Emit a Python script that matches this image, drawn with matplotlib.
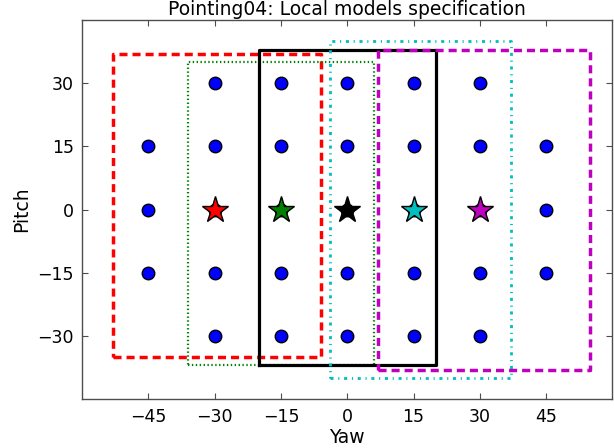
import matplotlib
matplotlib.use("Agg")
import matplotlib.pyplot as plt
import numpy as np

# grid of head poses (yaw, pitch)
yaw_grid = [-45, -30, -15, 0, 15, 30, 45]
pitch_grid = [-30, -15, 0, 15, 30]
# yaw +-45 only has the inner pitch values
pitch_outer = [-15, 0, 15]

# local model centres
star_yaw = [-30, -15, 0, 15, 30]
star_pitch = [0, 0, 0, 0, 0]
star_colors = ['r', 'g', 'k', 'c', 'm']

# local model regions: (yaw_min, yaw_max, pitch_min, pitch_max)
box_yaw_min = [-53, -36, -20, -4, 7]
box_yaw_max = [-6, 6, 20, 37, 55]
box_pitch_min = [-35, -37, -37, -40, -38]
box_pitch_max = [37, 35, 38, 40, 38]
box_dashes = [(5.8, 3.6), (1.0, 1.8), None, (2.2, 3.4, 0.8, 3.4), (5.8, 3.6)]
box_widths = [2.5, 1.6, 2.3, 2.0, 2.5]

plt.rcParams['xtick.direction'] = 'in'
plt.rcParams['ytick.direction'] = 'in'
plt.rcParams['xtick.top'] = True
plt.rcParams['ytick.right'] = True
plt.rcParams['lines.scale_dashes'] = False

fig = plt.figure(figsize=(6.14, 4.48), dpi=100)
ax = fig.add_axes([0.1335, 0.109, 0.864, 0.846])

xs, ys = [], []
for yw in yaw_grid:
    col = pitch_outer if abs(yw) == 45 else pitch_grid
    for p in col:
        xs.append(yw); ys.append(p)
ax.plot(xs, ys, 'o', color='b', markeredgecolor='k', markersize=9, linestyle='none')

for i in range(len(box_dashes)):
    x0, x1 = box_yaw_min[i], box_yaw_max[i]
    y0, y1 = box_pitch_min[i], box_pitch_max[i]
    ln, = ax.plot([x0, x1, x1, x0, x0], [y0, y0, y1, y1, y0],
                  color=star_colors[i], linewidth=box_widths[i])
    if box_dashes[i] is not None:
        ln.set_dashes(box_dashes[i])

for i in range(len(star_yaw)):
    ax.plot(star_yaw[i], star_pitch[i], '*', color=star_colors[i], markeredgecolor='k',
            markersize=20)

ax.set_xlim(-60, 60)
ax.set_ylim(-45, 45)
ax.set_xticks([-45, -30, -15, 0, 15, 30, 45])
ax.set_yticks([-30, -15, 0, 15, 30])
for s in ax.spines.values():
    s.set_color('0.3')
    s.set_linewidth(1.0)
ax.tick_params(labelsize=12.5, length=4, width=0.8, color='0.3', pad=6)
ax.set_xlabel("Yaw", fontsize=13.5, labelpad=2)
ax.set_ylabel("Pitch", fontsize=13.5)
ax.set_title("Pointing04: Local models specification", fontsize=13.5, pad=4)

fig.savefig("out.png", dpi=100)
